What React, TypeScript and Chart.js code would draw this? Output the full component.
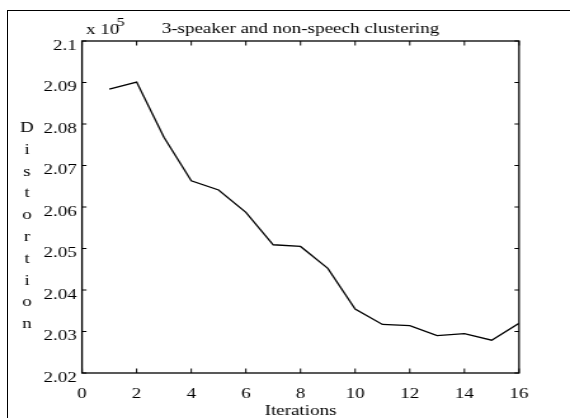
import React, { useEffect, useRef } from "react";
import { Chart, registerables } from "chart.js";

Chart.register(...registerables);

const iterations = [1, 2, 3, 4, 5, 6, 7, 8, 9, 10, 11, 12, 13, 14, 15, 16];
const distortion = [
  208840, 209010, 207680, 206630, 206410, 205870, 205090, 205050,
  204520, 203540, 203170, 203140, 202900, 202950, 202790, 203200,
];
const yLabelLetters = ["D", "i", "s", "t", "o", "r", "t", "i", "o", "n"];
const titleText = "3-speaker and non-speech clustering";
const xTitle = "Iterations";
const exponentBase = "x 10";
const exponent = "5";

const W = 570;
const H = 418;
const BW = 449; // bitmap width (stretched horizontally to W)
const K = W / BW;
const FONT = '"Liberation Serif", "Times New Roman", serif';

const decor = {
  id: "matlabDecor",
  afterDraw(chart: any) {
    const { ctx, chartArea: a, scales } = chart;
    const x = scales.x;
    const y = scales.y;
    ctx.save();
    ctx.strokeStyle = "#000";
    ctx.lineWidth = 1.3;
    ctx.strokeRect(a.left, a.top, a.right - a.left, a.bottom - a.top);
    ctx.lineWidth = 1;
    const tl = 4.5;
    ctx.beginPath();
    x.ticks.forEach((t: any) => {
      const px = x.getPixelForValue(t.value);
      ctx.moveTo(px, a.bottom);
      ctx.lineTo(px, a.bottom - tl);
      ctx.moveTo(px, a.top);
      ctx.lineTo(px, a.top + tl);
    });
    y.ticks.forEach((t: any) => {
      const py = y.getPixelForValue(t.value);
      ctx.moveTo(a.left, py);
      ctx.lineTo(a.left + tl / K, py);
      ctx.moveTo(a.right, py);
      ctx.lineTo(a.right - tl / K, py);
    });
    ctx.stroke();

    ctx.fillStyle = "#000";
    ctx.textBaseline = "alphabetic";
    ctx.textAlign = "left";
    ctx.font = `15px ${FONT}`;
    ctx.fillText(exponentBase, 86 / K, 34);
    ctx.font = `13px ${FONT}`;
    ctx.fillText(exponent, 116.5 / K, 26);
    ctx.font = `15px ${FONT}`;
    ctx.textAlign = "center";
    yLabelLetters.forEach((ch, i) => {
      ctx.fillText(ch, 27 / K, 132 + i * 21.8);
    });
    ctx.restore();
  },
};

export default function App() {
  const ref = useRef<HTMLCanvasElement>(null);
  useEffect(() => {
    const canvas = ref.current;
    if (!canvas) return;
    const chart = new Chart(canvas, {
      type: "line",
      data: {
        datasets: [
          {
            data: iterations.map((it, i) => ({ x: it, y: distortion[i] })),
            borderColor: "#000",
            borderWidth: 1.3,
            pointRadius: 0,
            tension: 0,
            fill: false,
          },
        ],
      },
      options: {
        responsive: false,
        animation: false,
        devicePixelRatio: 1,
        layout: { padding: { left: 0, right: 408.8 - 408.8 + (BW - 519 / K), top: 0, bottom: 0 } },
        plugins: {
          legend: { display: false },
          tooltip: { enabled: false },
          title: {
            display: true,
            text: titleText,
            fullSize: false,
            color: "#000",
            font: { family: FONT, size: 15, weight: "normal" },
            padding: { top: 20, bottom: 3 },
          },
        },
        scales: {
          x: {
            type: "linear",
            min: 0,
            max: 16,
            grid: { display: false, drawTicks: false },
            border: { display: false },
            ticks: {
              stepSize: 2,
              color: "#000",
              padding: 12,
              maxRotation: 0,
              font: { family: FONT, size: 15 },
            },
            title: {
              display: true,
              text: xTitle,
              color: "#000",
              font: { family: FONT, size: 15 },
              padding: { top: 0, bottom: -2 },
            },
            afterFit: (s: any) => {
              s.height = H - 373;
            },
          },
          y: {
            type: "linear",
            min: 202000,
            max: 210000,
            grid: { display: false, drawTicks: false },
            border: { display: false },
            ticks: {
              stepSize: 1000,
              color: "#000",
              padding: 4,
              labelOffset: 5,
              font: { family: FONT, size: 15 },
              callback: (v: any) => String(parseFloat((Number(v) / 1e5).toFixed(2))),
            },
            afterFit: (s: any) => {
              s.width = 82 / K;
            },
          },
        },
      },
      plugins: [decor],
    });
    return () => chart.destroy();
  }, []);

  return (
    <div style={{ position: "fixed", left: 0, top: 0, width: W, height: H, background: "#fff", overflow: "hidden" }}>
      <div
        style={{
          position: "absolute",
          left: 7,
          top: 10,
          right: 0,
          bottom: 0,
          borderLeft: "1px solid #000",
          borderTop: "1px solid #000",
        }}
      />
      <canvas
        ref={ref}
        width={BW}
        height={H}
        style={{ position: "absolute", left: 0, top: 0, width: W + "px", height: H + "px" }}
      />
    </div>
  );
}
